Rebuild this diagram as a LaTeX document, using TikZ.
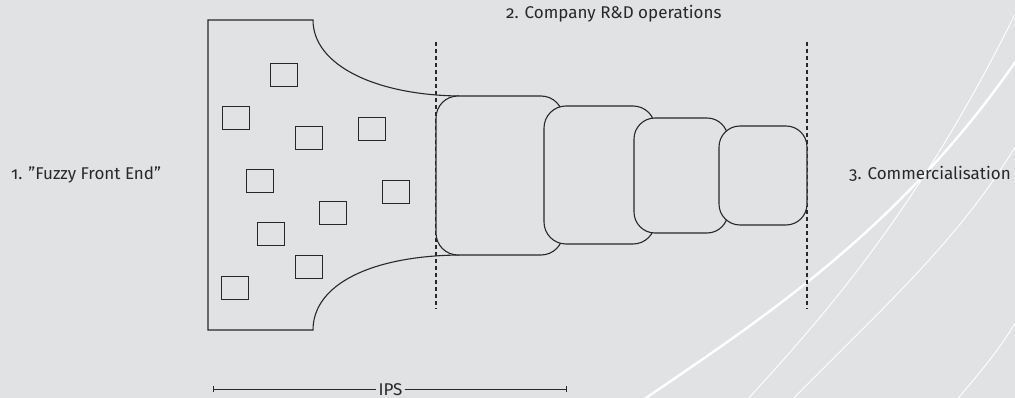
\documentclass[tikz,border=0pt]{standalone}
\usepackage{fontspec}
\setmainfont{Fira Sans}[Numbers=OldStyle]
\usetikzlibrary{arrows.meta}

\definecolor{paper}{RGB}{225,226,228}
\definecolor{ink}{RGB}{40,40,42}

\tikzset{
    stage/.style={draw=ink, fill=paper, line width=1.1pt, rounded corners=22pt,
        inner sep=0pt},
    idea/.style={draw=ink, line width=1.4pt, minimum width=27pt, minimum height=23pt,
        inner sep=0pt},
    phase/.style={text=ink, inner sep=0pt, font=\fontsize{17}{20}\selectfont},
    gate/.style={draw=ink, line width=1.1pt, dash pattern=on 4pt off 3pt},
    swoosh/.style={draw=white, line width=#1},
}

\begin{document}
\begin{tikzpicture}[x=1pt, y=-1pt]
    \fill[paper] (0,0) rectangle (1015,398);
    \useasboundingbox (0,0) rectangle (1015,398);
    % white background lines
    \begin{scope}
        \clip (0,0) rectangle (1015,398);
        \draw[swoosh=2.4pt] (640,402) .. controls (760,320) and (900,230) .. (1018,58);
        \draw[swoosh=0.9pt] (745,402) .. controls (830,310) and (925,200) .. (1022,0);
        \draw[swoosh=0.9pt] (790,402) .. controls (880,310) and (960,240) .. (1018,142);
        \draw[swoosh=0.9pt] (955,402) .. controls (975,378) and (1000,350) .. (1018,318);
    \end{scope}

    % funnel mouth
    \draw[ink, line width=1.1pt] (459,96) .. controls (375,95) and (313,65) .. (313,20)
        -- (208,20) -- (208,330) -- (313,330)
        .. controls (313,285) and (370,256) .. (459,255);

    % ideas
    \foreach \x/\y [count=\i] in {270/63, 222/106, 295/126, 358/117, 246/169,
                                  382/180, 319/201, 257/222, 295/255, 221/276}
        \node[idea, anchor=north west] (idea\i) at (\x,\y) {};

    % gates
    \coordinate (g1top) at (436,42);
    \coordinate (g1bot) at (436,309);
    \coordinate (g2top) at (807,42);
    \coordinate (g2bot) at (807,309);
    \draw[gate] (g1top) -- (g1bot);
    \draw[gate] (g2top) -- (g2bot);

    % development stages
    \node[stage, minimum width=127pt, minimum height=159pt] (stage1) at (499.5,175.5) {};
    \node[stage, minimum width=111pt, minimum height=138pt] (stage2) at (599.5,175) {};
    \node[stage, minimum width=94pt, minimum height=115pt, rounded corners=21pt] (stage3) at (681,175.5) {};
    \node[stage, minimum width=88pt, minimum height=99pt, rounded corners=21pt] (stage4) at (763,175.5) {};

    % labels
    \node[phase, anchor=base west] (fuzzy) at (11,180) {1. ”Fuzzy Front End”};
    \node[phase, anchor=base west] (rnd) at (506,19) {2. Company R\&D operations};
    \node[phase, anchor=base west] (comm) at (849,180) {3. Commercialisation};

    % scope of the study
    \coordinate (ipsl) at (213,389);
    \coordinate (ipsr) at (567,389);
    \node[phase, anchor=base, inner xsep=2pt] (ips) at (390.5,395) {IPS};
    \draw[ink, line width=1pt, {Bar[width=6pt]}-] (ipsl) -- (ips.west |- ipsl);
    \draw[ink, line width=1pt, -{Bar[width=6pt]}] (ips.east |- ipsr) -- (ipsr);
\end{tikzpicture}
\end{document}
